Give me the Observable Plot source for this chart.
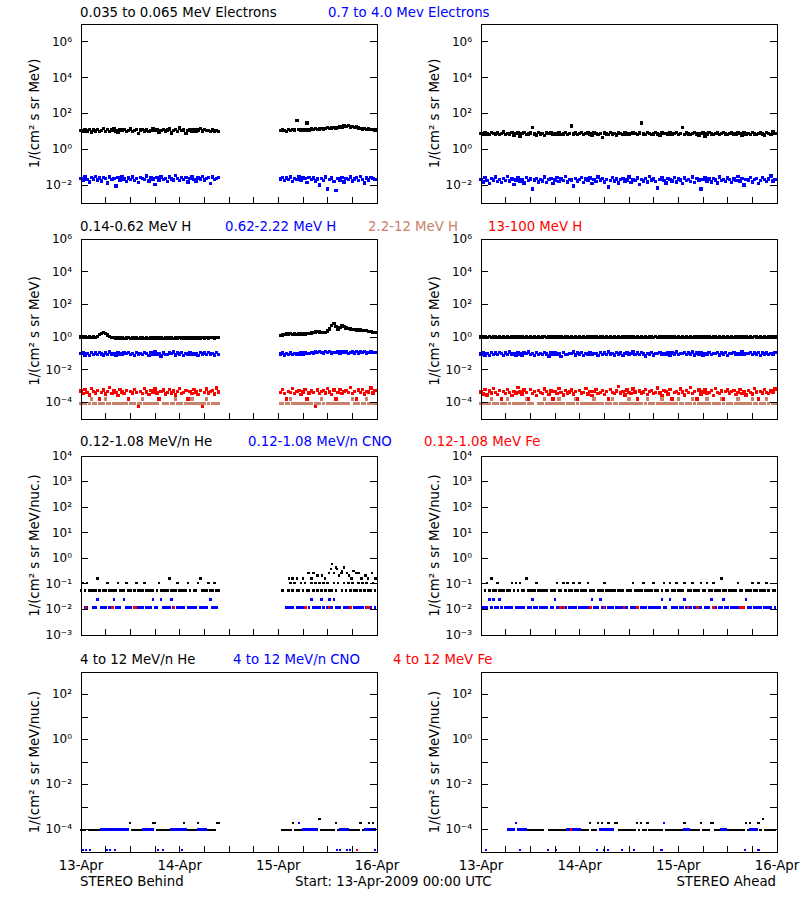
<!DOCTYPE html>
<html><head><meta charset="utf-8">
<script src="https://cdn.jsdelivr.net/npm/d3@7"></script>
<script src="https://cdn.jsdelivr.net/npm/@observablehq/plot@0.6"></script>
<style>
body{margin:0;background:#fff;}
#chart{position:relative;width:800px;height:900px;background:#fff;font-family:"DejaVu Sans",sans-serif;overflow:hidden;}
#chart svg{position:absolute;overflow:visible;}
.t{position:absolute;font-size:13.3px;white-space:pre;line-height:16px;color:#000;}
</style></head><body><div id="chart"></div>
<script>
// ---------- axis / tick labels ----------
const xTickHours = [0,6,12,18,24,30,36,42,48,54,60,66,72];
const dayTicks = [0,24,48,72];
const dayLabels = ["13-Apr","14-Apr","15-Apr","16-Apr"];
const yLabelMeV = "1/(cm² s sr MeV)";
const yLabelNuc = "1/(cm² s sr MeV/nuc.)";

// sample times (hours since 13-Apr-2009 00:00 UTC), 30-min averages
const aheadTimes = d3.range(0, 72, 0.5);                                      // 144 samples
const behindTimes = [...d3.range(0, 34, 0.5), ...d3.range(48.5, 72, 0.5)];    // 68 + 47 samples (data gap)

// ---------- row 1 : electrons ----------
// 0.035-0.065 MeV electrons (black)
const e1Behind = [
11.2,9.8,12.6,10.4,13.1,9.2,11.8,10.7,12.9,9.5,
11.4,14.2,10.1,12.3,9.7,11.9,13.4,10.5,8.8,12.1,
10.9,12.7,9.9,11.5,13.8,10.2,11.1,12.4,7.6,11.7,
13.0,10.6,12.2,9.6,11.3,14.6,10.8,12.5,9.3,11.6,
12.8,10.3,11.9,13.5,8.1,11.2,12.6,10.1,15.8,11.4,
12.0,7.9,11.6,13.2,10.4,12.3,9.9,11.8,14.1,10.6,
12.5,10.9,11.3,9.6,12.1,10.7,11.5,10.2,
// after gap
10.8,12.1,11.3,10.2,12.6,11.0,13.2,11.7,41,12.4,
11.5,13.0,12.2,30,11.9,13.6,12.8,14.1,12.5,13.8,
15.0,13.4,14.6,16.2,14.0,15.5,17.1,15.2,16.8,18.5,
17.2,19.8,18.1,20.6,17.6,19.0,16.4,17.8,15.6,14.9,
13.8,15.1,12.9,13.6,12.4,13.1,11.8];
const e1Ahead = [
7.8,6.9,8.4,7.1,6.5,8.9,7.6,7.0,8.2,6.8,
7.4,9.1,6.6,7.9,7.2,8.5,6.3,7.7,8.0,5.2,
7.5,8.6,6.9,7.3,8.1,17,7.0,6.4,8.8,7.2,
7.6,6.1,8.3,7.4,9.0,6.7,7.9,7.1,8.4,6.8,
7.3,8.7,6.5,7.8,20,7.0,8.2,6.9,7.6,8.5,
6.6,7.4,8.0,7.2,6.3,8.9,7.5,6.8,7.9,4.6,
8.1,7.3,6.9,8.6,7.0,7.7,6.4,8.3,7.5,6.9,
8.8,7.1,6.6,7.9,8.2,7.4,6.8,8.0,29,7.2,
6.5,8.4,7.7,6.9,7.3,8.7,7.0,6.2,8.1,7.6,
7.9,6.7,8.3,7.1,7.5,8.8,6.9,7.4,17,6.6,
8.0,7.2,6.8,7.9,8.5,7.0,6.4,7.7,8.2,5.0,
7.3,8.6,7.1,6.9,7.8,8.1,6.5,7.4,8.9,7.0,
6.7,7.6,8.3,7.2,6.8,8.0,7.5,6.3,8.4,7.1,
7.8,6.9,8.7,7.3,6.6,7.9,8.2,7.0,6.4,8.5,
7.4,6.8,9.2,7.6];
// 0.7-4.0 MeV electrons (blue), listed in units of 1e-3
const E2_UNIT = 1e-3;
const e2Behind = [
24,18,29,21,15,26,22,31,19,25,
17,27,23,13,28,20,24,9,26,19,
30,22,16,25,21,28,18,24,14,27,
23,20,32,17,25,22,11,26,19,29,
21,24,16,28,22,19,35,23,18,26,
20,27,15,24,29,21,17,25,22,30,
19,23,26,12,28,21,24,27,
// after gap
22,27,18,25,20,29,16,24,21,28,
19,26,23,14,27,20,25,17,22,10,
24,18,28,6,21,25,16,5,23,19,
27,15,24,20,29,17,22,26,18,30,
21,13,25,19,27,23,20];
const e2Ahead = [
21,15,26,18,12,23,19,29,16,20,
14,24,18,31,17,22,11,19,25,16,
20,13,27,18,22,6,19,24,15,21,
17,28,14,20,23,12,19,26,16,22,
18,30,15,21,19,9,24,17,20,27,
14,22,18,25,12,20,16,29,19,23,
15,21,8,18,26,17,22,13,20,24,
16,19,28,14,21,18,25,11,20,17,
23,15,30,19,22,16,7,21,26,18,
13,24,20,17,27,15,22,19,12,25,
18,21,16,28,14,23,19,6,20,26,
17,22,15,24,19,13,29,18,21,16,
25,20,14,22,18,31,17,23,10,20,
19,26,15,21,24,12,18,27,20,16,
22,33,17,21];

// ---------- row 2 : protons ----------
// 0.14-0.62 MeV H (black)
const h1Behind = [
1.04,0.98,1.01,0.96,1.02,0.97,1.00,0.99,1.10,1.45,
1.75,1.88,1.70,1.35,1.12,0.98,0.92,0.89,0.91,0.87,
0.90,0.86,0.88,0.92,0.85,0.89,0.87,0.90,0.84,0.88,
0.91,0.86,0.89,0.85,0.88,0.92,0.87,0.90,0.86,0.89,
0.84,0.88,0.91,0.87,0.89,0.86,0.90,0.88,0.92,0.87,
0.89,0.91,0.86,0.90,0.88,0.93,0.89,0.91,0.87,0.92,
0.90,0.94,0.88,0.92,0.95,0.91,0.93,0.96,
// after gap
1.30,1.38,1.52,1.60,1.55,1.62,1.48,1.56,1.50,1.58,
1.53,1.61,1.55,1.66,1.72,1.80,1.95,2.10,2.20,2.05,
1.92,1.88,1.97,2.40,3.10,5.20,7.00,4.50,3.20,3.80,
4.90,4.30,3.60,3.30,3.10,3.00,2.90,2.80,2.75,2.70,
2.60,2.50,2.45,2.30,2.15,2.00,1.90];
const h1Ahead = [
1.01,0.96,1.04,0.98,1.06,0.95,1.00,1.03,0.97,1.05,
0.99,1.02,0.94,1.04,0.98,1.01,0.96,1.07,1.00,0.97,
1.03,0.95,1.02,0.99,1.05,0.96,1.01,0.98,1.04,0.93,
1.00,1.06,0.97,1.02,0.99,1.03,0.95,1.01,0.98,1.04,
0.96,1.00,1.05,0.97,1.02,0.94,1.01,0.99,1.03,0.96,
1.04,0.98,1.00,0.95,1.06,0.99,1.02,0.97,1.01,1.03,
0.96,1.00,0.98,1.05,0.97,1.02,0.94,1.01,0.99,1.04,
0.96,1.03,1.00,0.98,1.05,0.95,1.02,0.99,1.01,0.97,
1.04,0.96,1.00,1.03,0.98,1.06,0.97,1.01,0.99,1.02,
0.95,1.04,0.98,1.00,1.03,0.96,1.01,0.99,1.05,0.97,
1.02,0.98,1.04,0.95,1.00,1.03,0.97,1.01,0.99,1.06,
0.96,1.02,0.98,1.04,1.00,0.95,1.03,0.99,1.01,0.97,
1.05,0.98,1.02,0.96,1.00,1.04,0.97,1.01,0.99,1.03,
0.95,1.02,0.98,1.06,1.00,0.97,1.03,0.99,1.01,0.96,
1.04,1.00,0.98,1.02];
// 0.62-2.22 MeV H (blue), in units of 1e-2
const H2_UNIT = 1e-2;
const h2Behind = [
9.8,11.4,8.2,10.5,7.7,12.1,9.1,10.9,8.6,11.6,
9.5,8.0,10.7,8.9,12.3,9.3,10.2,7.5,11.1,9.6,
8.4,10.8,9.9,12.0,8.8,10.3,7.9,11.4,9.2,10.1,
8.7,11.9,9.7,7.3,10.6,9.4,12.2,9.0,10.4,7.0,
11.0,9.1,8.5,10.6,9.8,12.5,8.3,10.9,9.5,11.3,
7.8,10.2,9.3,11.8,8.7,10.5,9.6,7.6,11.1,9.2,
10.7,8.9,12.0,9.4,10.1,8.2,11.5,9.0,
// after gap
9.6,10.8,8.3,10.2,9.1,11.0,8.7,10.4,9.5,8.9,
10.6,9.2,11.3,9.8,10.1,11.7,10.9,12.4,11.2,12.8,
11.6,10.7,12.9,11.4,13.2,10.9,12.1,11.5,13.0,10.6,
12.3,11.1,12.7,10.4,11.9,12.6,11.0,13.1,10.8,12.2,
11.4,12.9,10.7,11.8,12.5,11.2,12.0];
const h2Ahead = [
9.4,11.2,8.1,10.3,7.6,12.0,9.0,10.8,8.5,11.5,
9.7,7.9,10.6,8.8,12.4,9.2,10.1,7.4,11.0,9.5,
8.3,10.9,9.8,12.2,8.7,10.4,7.8,11.3,9.1,10.0,
8.6,11.8,9.6,7.2,10.7,9.3,12.1,8.9,10.2,6.8,
11.1,9.0,8.4,10.5,9.9,12.6,8.2,10.8,9.4,11.4,
7.7,10.1,9.2,11.9,8.6,10.4,9.7,7.5,11.2,9.0,
10.6,8.8,12.3,9.5,10.0,8.1,11.6,9.3,10.9,7.9,
9.8,11.0,8.5,10.3,12.5,9.1,10.7,8.7,11.3,9.6,
6.9,10.2,9.4,11.7,8.3,10.5,9.9,12.0,8.8,10.1,
9.2,11.4,7.6,10.8,9.5,12.2,8.4,10.0,9.7,11.1,
8.9,10.6,9.3,12.7,8.0,10.9,9.6,11.5,7.8,10.3,
9.0,11.9,8.6,10.4,9.8,12.1,8.2,10.7,9.4,11.2,
7.3,10.0,9.7,11.6,8.9,10.5,9.1,12.4,8.5,10.2,
9.9,11.3,8.7,10.8,9.2,12.0,7.9,10.6,9.5,11.0,
8.4,10.1,9.6,11.7];
// 2.2-12 MeV H (brown), counts per sample; one count = 0.85e-4
const H3_ONE_COUNT = 0.85e-4;
const h3Behind = [
1,1,1,0,1,2,1,1,0,1,
1,1,2,1,1,0,1,1,1,1,
0,1,1,2,1,1,1,0,1,1,
2,1,1,1,0,1,1,1,2,0,
1,1,1,0,1,1,2,1,1,1,
0,1,1,1,2,1,0,1,1,1,
1,2,1,0,1,1,1,1,
// after gap
1,1,0,1,1,2,1,1,1,0,
1,1,1,2,1,1,0,1,1,1,
2,1,0,1,1,1,1,2,1,0,
1,1,1,1,0,2,1,1,1,0,
1,1,2,1,1,1,1];
const h3Ahead = [
1,1,0,1,1,2,1,1,1,0,
1,1,1,2,1,0,1,1,1,1,
0,1,2,1,1,1,0,0,1,1,
1,2,1,1,0,1,1,1,2,1,
1,0,1,1,1,1,2,1,0,1,
1,1,1,0,1,2,1,1,1,1,
0,1,1,1,2,1,1,0,1,1,
1,1,2,1,0,1,1,1,1,0,
1,2,1,1,1,0,1,1,2,1,
1,1,0,1,1,1,2,1,1,0,
1,1,1,2,1,0,1,1,1,1,
2,1,0,1,1,1,1,2,1,0,
1,1,1,0,1,2,1,1,0,1,
1,1,2,1,1,0,1,1,1,2,
1,0,1,1];
// 13-100 MeV H (red), in units of 1e-4
const H4_UNIT = 1e-4;
const h4Behind = [
5.1,3.6,6.4,4.2,3.0,7.2,4.6,3.8,5.5,1.7,
4.3,6.0,3.4,4.9,8.1,3.7,5.3,4.0,2.8,6.6,
4.4,3.5,5.7,1.7,4.8,3.9,6.2,4.1,0.6,5.0,
3.6,7.5,4.5,3.2,5.4,4.0,6.8,3.8,1.7,4.7,
5.9,3.4,4.3,6.5,3.9,5.1,2.9,4.6,7.0,3.7,
4.2,5.6,1.7,4.9,3.5,6.1,4.4,3.1,5.3,0.6,
4.0,6.7,3.8,4.8,5.5,3.3,7.8,4.5,
// after gap
4.3,6.1,3.5,1.7,5.0,4.1,7.3,3.7,4.8,5.6,
3.2,4.5,6.4,1.7,3.9,5.2,4.2,0.6,6.0,3.6,
4.7,5.4,3.8,7.1,4.4,3.1,5.8,1.7,4.0,6.3,
3.5,4.9,5.5,4.2,8.4,3.7,4.6,1.7,5.9,4.1,
6.6,3.4,5.0,4.5,7.7,3.9,5.3];
const h4Ahead = [
4.5,3.4,6.1,2.9,5.2,3.8,7.4,4.1,3.1,5.6,
1.7,4.8,3.6,6.5,4.2,2.8,5.0,3.9,8.6,4.4,
3.3,5.8,4.0,1.7,6.2,3.5,4.7,2.7,5.4,4.3,
3.7,6.8,4.6,3.2,5.1,1.7,4.9,3.6,7.1,4.0,
2.9,5.5,3.8,4.4,6.0,3.3,4.8,1.7,5.3,3.9,
4.2,7.6,3.4,5.0,2.8,4.6,6.3,3.7,4.1,5.7,
3.1,4.9,1.7,6.6,4.3,3.5,5.2,9.5,3.9,4.7,
2.9,5.9,4.0,3.6,6.9,4.5,1.7,5.1,3.8,4.4,
6.4,3.2,4.8,5.6,3.5,4.1,7.8,3.9,2.7,5.3,
4.6,3.4,6.1,1.7,4.2,5.0,3.7,6.7,4.4,3.0,
5.4,4.0,8.3,3.6,4.9,1.7,5.8,3.3,4.5,6.2,
3.8,4.3,5.5,2.8,7.0,4.1,3.5,5.1,1.7,4.7,
6.0,3.9,4.6,5.3,3.2,4.0,6.5,3.7,4.8,2.9,
5.6,4.2,3.4,7.3,4.5,1.7,5.0,3.8,6.3,4.1,
3.6,5.2,4.4,6.8];

// ---------- row 3 : 0.12-1.08 MeV/n heavy ions (counts per sample) ----------
const HE3_ONE_COUNT = 0.054;
const CNO3_ONE_COUNT = 0.012;
const heLoBehind = [
1,2,1,2,1,1,1,1,3,1,
0,1,1,2,1,1,1,1,2,1,
1,1,2,1,1,0,1,2,1,1,
1,2,1,1,1,1,0,1,2,1,
1,1,1,3,1,1,1,2,1,1,
1,1,2,1,0,1,1,2,3,1,
1,1,2,1,1,2,1,1,
// after gap
0,1,0,0,1,2,1,2,1,1,
2,1,2,1,1,2,1,2,1,2,
1,2,1,2,1,1,2,1,2,0,
1,2,1,2,1,2,1,1,2,1,
2,1,2,1,1,2,1];
// additional He samples during the 15-Apr enhancement (hour, counts)
const heLoBehindExtraT = [50.6,51.4,52.5,54.0,55.4,56.0,56.6,57.5,58.6,59.4,60.3,60.8,61.1,61.5,62.0,62.3,62.8,63.3,63.5,64.0,64.7,65.2,65.8,66.3,66.9,67.5,68.2,69.2,69.8,70.8,71.6];
const heLoBehindExtraC = [3,3,3,3,5,3,5,4,4,3,5,7,11,5,8,7,4,5,6,8,5,4,3,6,5,5,3,4,3,5,3];
const heLoAhead = [
0,0,1,2,1,3,1,1,2,1,
1,1,0,1,1,2,1,2,1,2,
1,1,3,1,1,1,1,2,1,1,
1,1,1,0,1,1,1,2,1,1,
2,1,2,1,1,2,1,1,2,1,
1,1,2,1,1,1,0,1,1,1,
2,1,1,1,1,1,0,1,1,1,
0,1,1,1,2,1,1,1,1,2,
1,1,1,1,2,1,1,0,1,2,
1,1,2,1,1,2,1,1,1,2,
0,1,1,2,1,1,1,2,1,1,
2,1,1,2,1,1,1,3,1,1,
0,1,1,1,1,2,1,1,0,1,
1,1,2,1,1,2,1,1,1,2,
1,0,1,1];
const cnoLoBehind = [
0,0,1,1,0,0,1,1,2,0,
1,1,1,0,1,1,2,1,1,1,
0,2,1,1,1,0,1,1,1,1,
1,0,1,1,1,2,1,1,0,2,
1,1,1,1,2,1,0,1,1,1,
1,0,1,1,1,1,1,0,1,1,
1,1,0,2,1,1,1,0,
// after gap
0,0,0,1,1,1,1,0,1,1,
1,1,1,0,1,2,1,1,1,1,
2,1,0,1,2,1,2,1,1,1,
0,1,1,1,1,0,1,1,1,1,
1,0,1,1,1,0,1];
const cnoLoAhead = [
0,1,1,1,2,1,2,1,1,2,
1,0,1,1,1,1,0,1,1,1,
1,1,0,1,1,2,1,1,0,1,
1,1,1,0,1,1,2,1,1,1,
1,1,0,1,1,1,1,0,1,1,
1,1,1,0,2,1,1,1,2,1,
1,0,1,1,1,0,1,1,1,1,
1,1,0,1,1,1,1,0,1,1,
1,0,1,1,1,1,1,1,2,1,
1,0,2,1,1,1,0,1,1,2,
1,1,1,0,1,1,1,1,0,1,
1,1,2,1,1,0,1,1,2,1,
1,0,1,1,1,1,0,1,1,2,
1,1,0,1,1,1,1,0,1,1,
1,1,0,1];
// 0.12-1.08 MeV Fe (red): sparse samples (hour, flux)
const feLoBehindT = [1.2,7.7,12.9,13.4,22.6,54.6,60.3,65.5,69.6,70.0];
const feLoBehindV = [0.012,0.012,0.012,0.012,0.012,0.012,0.012,0.012,0.012,0.012];
const feLoAheadT = [19.4,20.2,26.7,29.9,34.8,38.0,50.3,52.7,56.6,63.1,63.9];
const feLoAheadV = [0.012,0.012,0.012,0.012,0.012,0.012,0.012,0.012,0.012,0.012,0.012];

// ---------- row 4 : 4-12 MeV/n heavy ions ----------
const HE4_ONE_COUNT = 0.95e-4;
const CNO4_ONE_COUNT = 1e-4;
const heHiBehind = [
1,1,1,0,1,1,1,1,1,1,
0,0,0,0,0,0,0,0,0,0,
0,0,0,0,2,1,1,1,1,1,
0,0,0,0,0,2,2,1,1,1,
1,1,1,1,0,0,0,0,0,0,
2,0,1,1,1,1,1,2,0,0,
0,0,1,1,1,1,2,2,
// after gap
0,1,1,1,1,1,2,1,1,1,
1,0,0,0,0,0,0,0,0,3,
1,1,1,1,1,1,1,2,1,0,
0,0,0,0,1,1,1,1,1,2,
1,0,0,2,0,2,0];
const cnoHiBehind = [
0,0,0,0,0,0,0,0,0,0,
1,1,1,1,1,1,1,1,1,1,
1,1,1,1,0,0,0,0,0,0,
1,1,1,1,1,1,0,0,0,0,
0,0,0,0,1,1,1,1,1,1,
1,1,0,0,0,0,0,1,1,1,
1,1,0,0,0,0,0,0,
// after gap
0,0,0,0,0,0,0,0,0,2,
0,1,1,1,1,1,1,1,1,0,
0,0,0,0,0,0,0,0,0,1,
1,1,1,1,0,0,0,0,0,0,
0,1,1,1,1,1,1];
const heHiAhead = [
0,0,0,0,0,0,0,0,0,0,
0,0,0,0,0,0,0,0,0,0,
0,0,0,1,1,1,1,1,1,1,
1,0,0,1,1,1,1,1,1,1,
1,1,0,0,0,0,0,0,0,1,
1,1,1,2,1,1,1,2,0,2,
0,0,2,0,0,2,2,1,1,1,
1,1,1,1,1,1,2,1,2,1,
1,2,1,1,1,1,1,1,1,0,
1,1,1,1,1,1,1,1,1,2,
0,0,1,1,1,1,1,2,1,1,
1,1,2,2,1,1,1,0,0,0,
1,1,1,1,1,1,1,1,1,2,
1,2,0,0,0,2,1,3,1,1,
1,1,1,1];
const cnoHiAhead = [
0,0,0,0,0,0,0,0,0,0,
0,0,0,1,1,1,1,2,1,1,
1,1,1,0,0,0,0,0,0,0,
0,0,0,0,0,0,0,0,0,0,
0,0,1,1,1,1,1,1,1,0,
0,0,0,0,0,0,0,0,1,1,
1,1,1,1,1,0,0,0,0,0,
0,0,0,0,0,0,0,0,0,0,
0,0,0,0,0,0,0,0,0,2,
0,0,0,0,0,0,0,0,0,1,
1,1,0,0,0,0,0,0,0,0,
0,0,0,0,0,0,0,1,1,1,
0,0,0,0,0,0,0,0,0,0,
0,1,1,1,1,0,0,0,0,0,
0,0,0,0];
// low-level CNO samples and Fe samples (hour, flux)
const cnoHiBehindLowT = [0.4,1.2,2.2,6.4,7.0,8.3,18.7,20.0,24.6,62.3,63.0,64.8,65.5,71.6];
const cnoHiBehindLowV = [1.2e-5,1.2e-5,1.2e-5,1.2e-5,1.2e-5,1.2e-5,1.2e-5,1.2e-5,1.2e-5,1.2e-5,1.2e-5,1.2e-5,1.2e-5,1.2e-5];
const cnoHiAheadLowT = [1.2,9.5,16.2,18.2,28.3,29.9,30.9,34.4,37.2,43.9,64.3,67.5];
const cnoHiAheadLowV = [1.2e-5,1.2e-5,1.2e-5,1.2e-5,1.2e-5,1.2e-5,1.2e-5,1.2e-5,1.2e-5,1.2e-5,1.2e-5,1.2e-5];
const feHiBehindT = [67.1];
const feHiBehindV = [1.2e-5];
const feHiAheadT = [21.8];
const feHiAheadV = [1e-4];

// ---------- helpers ----------
function check(name, arr, n) { if (arr.length !== n) throw new Error(name + " has " + arr.length + " values, expected " + n); }
[["e1Behind",e1Behind],["e2Behind",e2Behind],["h1Behind",h1Behind],["h2Behind",h2Behind],["h3Behind",h3Behind],["h4Behind",h4Behind],
 ["heLoBehind",heLoBehind],["cnoLoBehind",cnoLoBehind],["heHiBehind",heHiBehind],["cnoHiBehind",cnoHiBehind]].forEach(([n,a]) => check(n,a,behindTimes.length));
[["e1Ahead",e1Ahead],["e2Ahead",e2Ahead],["h1Ahead",h1Ahead],["h2Ahead",h2Ahead],["h3Ahead",h3Ahead],["h4Ahead",h4Ahead],
 ["heLoAhead",heLoAhead],["cnoLoAhead",cnoLoAhead],["heHiAhead",heHiAhead],["cnoHiAhead",cnoHiAhead]].forEach(([n,a]) => check(n,a,aheadTimes.length));
check("heLoBehindExtraC", heLoBehindExtraC, heLoBehindExtraT.length);

function samples(times, vals, unit = 1) {
  const out = [];
  vals.forEach((v, i) => { if (v) out.push({t: times[i], v: v * unit}); });
  return out;
}
function events(ts, vs, unit = 1) { return ts.map((t, i) => ({t, v: vs[i] * unit})); }

const BLACK = "#000000", BLUE = "#0000ff", RED = "#ff0000", BROWN = "#c8826a";
const sup = {"-":"⁻","0":"⁰","1":"¹","2":"²","3":"³","4":"⁴","5":"⁵","6":"⁶","7":"⁷","8":"⁸","9":"⁹"};
const fmtPow = d => "10" + String(Math.round(Math.log10(d))).split("").map(c => sup[c]).join("");

const rows = [
  {top: 13,  H: 179, domain: [1e-3, 1e7], labels: [1e-2,1,1e2,1e4,1e6], marks: [1e-2,1,1e2,1e4,1e6], ylabel: yLabelMeV, dy: 0, r: 1.9},
  {top: 228, H: 180, domain: [1e-5, 1e6], labels: [1e-4,1e-2,1,1e2,1e4,1e6], marks: [1e-4,1e-2,1,1e2,1e4,1e6], ylabel: yLabelMeV, dy: 2, r: 1.9},
  {top: 445, H: 179, domain: [1e-3, 1e4], labels: [1e-3,1e-2,1e-1,1,1e1,1e2,1e3,1e4], marks: [1e-3,1e-2,1e-1,1,1e1,1e2,1e3,1e4], ylabel: yLabelNuc, dy: 0, r: 1.45},
  {top: 661, H: 180, domain: [1e-5, 1e3], labels: [1e-4,1e-2,1,1e2], marks: [1e-4,1e-3,1e-2,1e-1,1,1e1,1e2], ylabel: yLabelNuc, dy: 0, r: 1.2}
];

const panels = [
  // row 1
  {row: 0, side: 0, layers: [[samples(behindTimes, e1Behind), BLACK], [samples(behindTimes, e2Behind, E2_UNIT), BLUE]]},
  {row: 0, side: 1, layers: [[samples(aheadTimes, e1Ahead), BLACK], [samples(aheadTimes, e2Ahead, E2_UNIT), BLUE]]},
  // row 2
  {row: 1, side: 0, layers: [[samples(behindTimes, h1Behind), BLACK], [samples(behindTimes, h2Behind, H2_UNIT), BLUE],
                             [samples(behindTimes, h3Behind, H3_ONE_COUNT), BROWN], [samples(behindTimes, h4Behind, H4_UNIT), RED]]},
  {row: 1, side: 1, layers: [[samples(aheadTimes, h1Ahead), BLACK], [samples(aheadTimes, h2Ahead, H2_UNIT), BLUE],
                             [samples(aheadTimes, h3Ahead, H3_ONE_COUNT), BROWN], [samples(aheadTimes, h4Ahead, H4_UNIT), RED]]},
  // row 3
  {row: 2, side: 0, layers: [[samples(behindTimes, heLoBehind, HE3_ONE_COUNT), BLACK], [events(heLoBehindExtraT, heLoBehindExtraC, HE3_ONE_COUNT), BLACK],
                             [samples(behindTimes, cnoLoBehind, CNO3_ONE_COUNT), BLUE], [events(feLoBehindT, feLoBehindV), RED]]},
  {row: 2, side: 1, layers: [[samples(aheadTimes, heLoAhead, HE3_ONE_COUNT), BLACK],
                             [samples(aheadTimes, cnoLoAhead, CNO3_ONE_COUNT), BLUE], [events(feLoAheadT, feLoAheadV), RED]]},
  // row 4
  {row: 3, side: 0, layers: [[samples(behindTimes, heHiBehind, HE4_ONE_COUNT), BLACK],
                             [samples(behindTimes, cnoHiBehind, CNO4_ONE_COUNT), BLUE], [events(cnoHiBehindLowT, cnoHiBehindLowV), BLUE],
                             [events(feHiBehindT, feHiBehindV), RED]]},
  {row: 3, side: 1, layers: [[samples(aheadTimes, heHiAhead, HE4_ONE_COUNT), BLACK],
                             [samples(aheadTimes, cnoHiAhead, CNO4_ONE_COUNT), BLUE], [events(cnoHiAheadLowT, cnoHiAheadLowV), BLUE],
                             [events(feHiAheadT, feHiAheadV), RED]]}
];

const chart = document.getElementById("chart");
const ML = 80.5, MR = 23.5, MT = 10.5;
const W = 400 - ML - MR;

panels.forEach(p => {
  const r = rows[p.row];
  const last = p.row === 3;
  const MB = last ? 30.5 : 10.5;
  const marks = [];
  p.layers.forEach(([data, color]) => {
    marks.push(Plot.dot(data, {x: "t", y: "v", symbol: "square", r: r.r, fill: color, stroke: "none", shapeRendering: "crispEdges"}));
  });
  marks.push(Plot.frame({stroke: "black", strokeWidth: 1, shapeRendering: "crispEdges"}));
  marks.push(Plot.tickY(r.marks, {y: d => d, insetRight: W - 7, stroke: "black", shapeRendering: "crispEdges"}));
  marks.push(Plot.tickY(r.marks, {y: d => d, insetLeft: W - 7, stroke: "black", shapeRendering: "crispEdges"}));
  marks.push(Plot.tickX(xTickHours, {x: d => d, insetTop: r.H - 6, stroke: "black", shapeRendering: "crispEdges"}));
  marks.push(Plot.axisY(r.labels, {tickSize: 0, tickPadding: 9, tickFormat: fmtPow, fontSize: 12, label: null}));
  marks.push(Plot.text([r.ylabel], {frameAnchor: "left", textAnchor: "middle", rotate: -90, dx: -46, dy: r.dy, fontSize: 13.3, ariaLabel: "ylabel"}));
  if (last) marks.push(Plot.axisX(dayTicks, {tickSize: 0, tickPadding: 9, tickFormat: d => dayLabels[dayTicks.indexOf(d)], fontSize: 13.3, label: null}));
  const svg = Plot.plot({
    width: 400, height: MT + r.H + MB,
    marginLeft: ML, marginRight: MR, marginTop: MT, marginBottom: MB,
    x: {domain: [0, 72], axis: null},
    y: {type: "log", domain: r.domain, axis: null},
    style: {fontFamily: "DejaVu Sans, sans-serif", fontSize: "13px", background: "none", color: "black"},
    marks
  });
  svg.style.left = (p.side * 400) + "px";
  svg.style.top = r.top + "px";
  const yl = svg.querySelector('g[aria-label="ylabel"] text');
  if (yl) yl.style.letterSpacing = "0.4px";
  chart.appendChild(svg);
});

// ---------- titles and footer ----------
const titles = [
  [5,   [[80, BLACK, "0.035 to 0.065 MeV Electrons"], [328, BLUE, "0.7 to 4.0 Mev Electrons"]]],
  [219, [[80, BLACK, "0.14-0.62 MeV H"], [225, BLUE, "0.62-2.22 MeV H"], [368, BROWN, "2.2-12 MeV H"], [488, RED, "13-100 MeV H"]]],
  [434, [[80, BLACK, "0.12-1.08 MeV/n He"], [248, BLUE, "0.12-1.08 MeV/n CNO"], [424, RED, "0.12-1.08 MeV Fe"]]],
  [652, [[80, BLACK, "4 to 12 MeV/n He"], [233, BLUE, "4 to 12 MeV/n CNO"], [393, RED, "4 to 12 MeV Fe"]]],
  [874, [[80, BLACK, "STEREO Behind"], [295, BLACK, "Start: 13-Apr-2009 00:00 UTC"]]]
];
titles.forEach(([top, items]) => items.forEach(([x, color, text]) => {
  const d = document.createElement("div");
  d.className = "t"; d.textContent = text;
  d.style.left = x + "px"; d.style.top = top + "px"; d.style.color = color;
  chart.appendChild(d);
}));
const ahead = document.createElement("div");
ahead.className = "t"; ahead.textContent = "STEREO Ahead";
ahead.style.right = (800 - 776) + "px"; ahead.style.top = "874px";
chart.appendChild(ahead);
</script></body></html>
